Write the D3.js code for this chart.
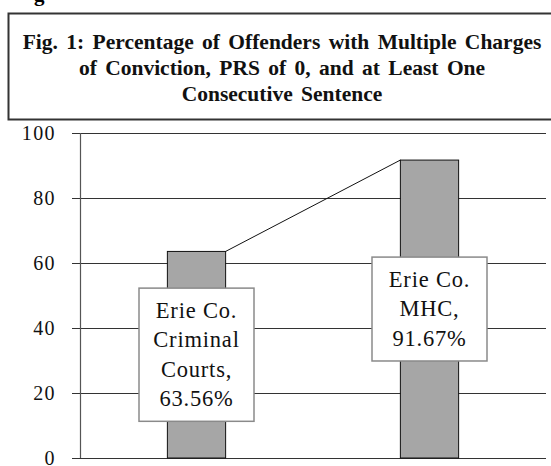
<!DOCTYPE html>
<html>
<meta charset="utf-8">
<title>Fig. 1</title>
<style>
	body { margin: 0; background: #fff; }
	svg { display: block; }
	.title text { font: bold 21.5px "Liberation Serif", serif; fill: #111; word-spacing: 3px; }
	.tick text { font: 20px "Liberation Serif", serif; fill: #111; letter-spacing: 1.4px; }
	.lbl text { font: 22.5px "Liberation Serif", serif; fill: #111; letter-spacing: 0.8px; }
</style>
<body>
<div id="chart"></div>
<script src="https://cdnjs.cloudflare.com/ajax/libs/d3/7.8.5/d3.min.js"></script>
<script>
	var categories = ["Erie Co. Criminal Courts", "Erie Co. MHC"];
	var values = [63.56, 91.67];
	var labelLines = [
		["Erie Co.", "Criminal", "Courts,", "63.56%"],
		["Erie Co.", "MHC,", "91.67%"]
	];
	var yTicks = [0, 20, 40, 60, 80, 100];
	var titleLines = [
		"Fig. 1: Percentage of Offenders with Multiple Charges",
		"of Conviction, PRS of 0, and at Least One",
		"Consecutive Sentence"
	];

	var W = 551, H = 466;
	var plot = { left: 80, right: 546, top: 133, bottom: 458 };

	var svg = d3.select("#chart").append("svg")
		.attr("width", W)
		.attr("height", H);

	// cut-off descender from the line above the figure
	svg.append("text")
		.attr("x", 34).attr("y", 1)
		.style("font", "bold 21px 'Liberation Serif', serif")
		.text("g");

	// title box
	var tg = svg.append("g").attr("class", "title");
	tg.append("rect")
		.attr("x", 8.5).attr("y", 13.5)
		.attr("width", 560).attr("height", 106)
		.attr("fill", "#fff")
		.attr("stroke", "#333")
		.attr("stroke-width", 2);
	tg.selectAll("text").data(titleLines).enter().append("text")
		.attr("x", 282)
		.attr("y", function (d, i) { return 49 + i * 26; })
		.attr("text-anchor", "middle")
		.text(function (d) { return d; });

	var x = d3.scaleBand().domain(categories).range([plot.left, plot.right]);
	var y = d3.scaleLinear().domain([0, 100]).range([plot.bottom, plot.top]);
	var barW = x.bandwidth() * 0.25;

	// gridlines
	svg.append("g").selectAll("line").data(yTicks).enter().append("line")
		.attr("x1", plot.left - 8).attr("x2", plot.right)
		.attr("y1", function (d) { return Math.round(y(d)) + 0.5; })
		.attr("y2", function (d) { return Math.round(y(d)) + 0.5; })
		.attr("stroke", "#333")
		.attr("stroke-width", 1);

	// y axis line
	svg.append("line")
		.attr("x1", plot.left + 0.5).attr("x2", plot.left + 0.5)
		.attr("y1", y(100)).attr("y2", y(0))
		.attr("stroke", "#555")
		.attr("stroke-width", 1.2);

	// tick labels
	svg.append("g").selectAll("g").data(yTicks).enter().append("g")
		.attr("class", "tick")
		.append("text")
		.attr("x", plot.left - 24)
		.attr("y", function (d) { return y(d); })
		.attr("dy", "0.33em")
		.attr("text-anchor", "end")
		.text(function (d) { return d; });

	// bars
	svg.append("g").selectAll("rect").data(values).enter().append("rect")
		.attr("x", function (d, i) { return x(categories[i]) + (x.bandwidth() - barW) / 2; })
		.attr("y", function (d) { return y(d); })
		.attr("width", barW)
		.attr("height", function (d) { return y(0) - y(d); })
		.attr("fill", "#a6a6a6")
		.attr("stroke", "#111")
		.attr("stroke-width", 1);

	// series line joining bar tops
	svg.append("line")
		.attr("x1", x(categories[0]) + (x.bandwidth() + barW) / 2)
		.attr("y1", y(values[0]))
		.attr("x2", x(categories[1]) + (x.bandwidth() - barW) / 2)
		.attr("y2", y(values[1]))
		.attr("stroke", "#111")
		.attr("stroke-width", 1);

	// data label boxes
	var lh = 29.3, boxW = 115;
	var lbl = svg.append("g").selectAll("g").data(values).enter().append("g")
		.attr("class", "lbl")
		.attr("transform", function (d, i) {
			var n = labelLines[i].length;
			var bh = n * lh + 16;
			var cx = x(categories[i]) + x.bandwidth() / 2;
			var cy = y(d / 2);
			return "translate(" + (cx - boxW / 2) + "," + (cy - bh / 2) + ")";
		});
	lbl.append("rect")
		.attr("width", boxW)
		.attr("height", function (d, i) { return labelLines[i].length * lh + 16; })
		.attr("fill", "#fff")
		.attr("stroke", "#8a8a8a")
		.attr("stroke-width", 1.5);
	lbl.each(function (d, i) {
		d3.select(this).selectAll("text").data(labelLines[i]).enter().append("text")
			.attr("x", boxW / 2)
			.attr("y", function (t, j) { return 30 + j * lh; })
			.attr("text-anchor", "middle")
			.text(function (t) { return t; });
	});
</script>
</body>
</html>
